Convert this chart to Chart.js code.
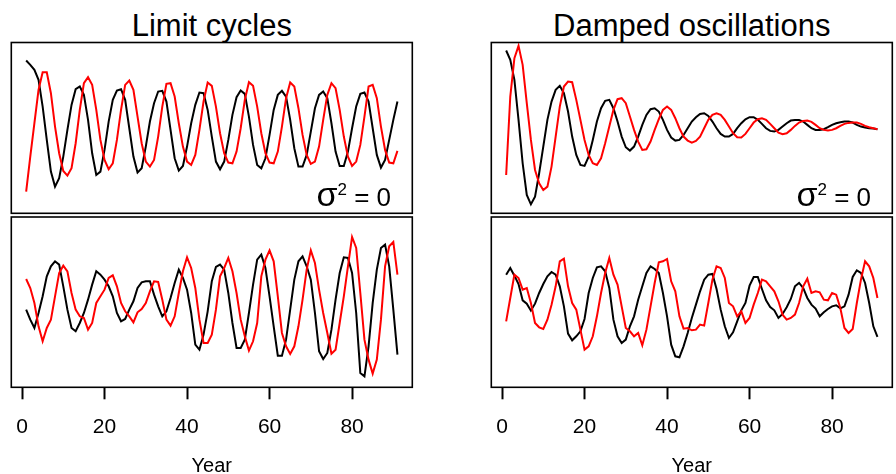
<!DOCTYPE html>
<html><head><meta charset="utf-8">
<script src="https://cdn.jsdelivr.net/npm/chart.js@4/dist/chart.umd.min.js"></script>
<style>
html,body{margin:0;padding:0;width:896px;height:474px;overflow:hidden;background:#fff;}
canvas{position:absolute;}
.t{position:absolute;font-family:"Liberation Sans",Arial,sans-serif;color:#000;white-space:nowrap;}
.ttl{font-size:31px;line-height:31px;text-align:center;top:9.7px;width:423.6px;}
.sig{font-size:26px;line-height:26px;top:183.7px;}
.sig .sg{font-size:34px;line-height:0;}
.sig .sp{font-size:17px;line-height:0;position:relative;top:-10.7px;}
</style></head><body>
<div class="t ttl" style="left:0px;">Limit cycles</div>
<div class="t ttl" style="left:480px;">Damped oscillations</div>
<canvas id="tl" width="450" height="186" style="left:0px;top:30px;"></canvas>
<canvas id="bl" width="450" height="271" style="left:0px;top:214px;"></canvas>
<canvas id="tr" width="426" height="186" style="left:470px;top:30px;"></canvas>
<canvas id="br" width="426" height="271" style="left:470px;top:214px;"></canvas>
<div class="t sig" style="right:505px;"><span class="sg">σ</span><span class="sp">2</span> = 0</div>
<div class="t sig" style="right:25px;"><span class="sg">σ</span><span class="sp">2</span> = 0</div>
<script>
// Years 1..91
const years = [1,2,3,4,5,6,7,8,9,10,11,12,13,14,15,16,17,18,19,20,21,22,23,24,25,26,27,28,29,30,31,32,33,34,35,36,37,38,39,40,41,42,43,44,45,46,47,48,49,50,51,52,53,54,55,56,57,58,59,60,61,62,63,64,65,66,67,68,69,70,71,72,73,74,75,76,77,78,79,80,81,82,83,84,85,86,87,88,89,90,91];
const xTicks = [0,20,40,60,80];
// values are read downward (larger = lower on the panel), drawn on reversed axes
const limitNoNoiseBlack = [62,75,90,120,200,300,395,440,415,350, 270,195,148,140,165,240,340,405,395,330, 245,180,152,148,180,265,350,398,385,320, 245,190,155,153,185,270,355,392,378,320, 250,195,158,160,210,290,365,388,365,300, 225,172,152,162,230,315,375,385,355,285, 210,165,153,170,240,325,380,380,345,275, 205,165,155,175,250,335,378,378,335,265, 200,162,158,185,265,345,383,360,300,240, 185];
const limitNoNoiseRed = [455,350,250,150,97,97,160,260,340,393, 407,385,310,210,130,112,135,210,300,360, 388,370,300,210,135,122,150,230,310,365, 380,360,290,200,132,130,170,250,320,365, 375,345,270,185,128,138,200,280,340,368, 370,335,265,180,127,138,200,280,340,368, 370,335,260,175,128,140,205,285,345,372, 365,320,240,165,130,145,210,290,350,378, 365,315,230,140,135,175,260,330,368,370, 333];
const limitNoiseBlack = [290,320,345,300,250,190,160,145,155,220, 290,345,355,330,300,260,215,175,185,200, 220,250,300,325,318,290,265,225,208,205, 205,245,280,310,295,255,210,170,195,230, 300,395,410,365,295,205,162,155,170,240, 330,405,405,380,300,215,140,125,165,250, 340,428,428,380,290,200,145,130,160,200, 300,415,438,420,350,260,180,133,135,180, 300,480,490,400,270,170,105,95,160,290, 425];
const limitNoiseRed = [198,225,270,340,385,345,320,250,180,158, 175,240,290,310,315,350,330,270,250,230, 195,187,220,270,295,310,328,298,288,270, 235,205,207,260,320,338,310,240,175,133, 165,225,320,390,390,365,290,190,165,135, 175,240,320,370,413,385,330,190,140,112, 145,250,360,400,423,400,340,260,170,112, 150,230,300,360,422,410,330,250,160,72, 105,240,380,440,482,440,320,160,100,87, 185];
const dampNoNoiseBlack = [32,60,120,240,370,465,493,470,400,320, 240,185,150,138,160,215,290,345,375,378, 350,300,245,205,183,180,205,245,290,322, 332,320,290,255,225,208,205,215,240,270, 293,302,300,285,265,245,232,222,220,228, 245,265,282,290,290,282,265,250,238,232, 232,240,252,265,273,275,270,260,250,242, 240,240,245,255,265,270,270,268,262,255, 250,247,245,245,248,255,260,263,265,266, 268];
const dampNoNoiseRed = [405,170,55,18,75,190,300,390,430,450, 440,380,290,200,140,125,127,180,240,300, 345,370,375,355,310,260,210,178,175,190, 230,270,305,330,328,305,270,238,210,200, 210,235,265,290,302,308,303,290,265,240, 225,220,225,240,260,280,292,293,282,265, 248,238,235,240,252,265,278,283,280,270, 258,248,243,242,246,255,265,270,272,270, 265,258,252,249,248,248,252,258,262,265, 268];
const dampNoiseBlack = [185,165,188,213,262,272,293,272,240,213, 190,177,185,220,280,362,382,370,355,318, 240,195,163,160,175,225,320,370,390,380, 340,310,260,220,180,160,168,180,240,310, 395,430,433,400,360,315,275,235,200,185, 183,228,290,340,375,358,325,292,270,218, 192,192,228,262,282,292,315,303,283,258, 220,210,225,255,275,287,310,298,288,280, 277,286,280,245,192,172,180,210,270,340, 372];
const dampNoiseRed = [325,255,185,195,230,225,270,330,343,348, 320,275,220,145,137,220,270,290,350,410, 400,370,310,240,180,135,185,215,280,345, 355,370,360,397,350,280,210,148,145,138, 205,235,310,347,345,352,350,335,338,270, 200,160,165,195,270,280,310,295,330,315, 275,240,200,205,220,235,265,305,320,315, 305,270,220,197,240,235,238,260,262,240, 245,285,345,360,348,270,200,145,160,195, 255];

const FONT = '"Liberation Sans", Arial, sans-serif';
const boxPlugin = {
  id: 'box',
  afterDatasetsDraw(chart) {
    const {ctx, chartArea: a} = chart;
    ctx.save();
    ctx.strokeStyle = '#000';
    ctx.lineWidth = 1.6;
    ctx.strokeRect(a.left, a.top, a.right - a.left, a.bottom - a.top);
    ctx.restore();
  }
};

function pts(vals) { return years.map((x, i) => ({x: x, y: vals[i]})); }

function panel(id, black, red, yMin, yMax, pad, showX) {
  new Chart(document.getElementById(id), {
    type: 'line',
    data: {
      datasets: [
        {data: pts(red), borderColor: '#ff0000', borderWidth: 2, pointRadius: 0, tension: 0, fill: false},
        {data: pts(black), borderColor: '#000000', borderWidth: 2, pointRadius: 0, tension: 0, fill: false}
      ]
    },
    options: {
      responsive: false, animation: false, devicePixelRatio: 1,
      layout: {padding: pad},
      plugins: {legend: {display: false}, tooltip: {enabled: false}, title: {display: false}},
      scales: {
        x: {
          type: 'linear', min: -2.6, max: 94.6, display: showX,
          afterBuildTicks: s => { s.ticks = xTicks.map(v => ({value: v})); },
          afterFit: s => { if (showX) s.height = 97.7; },
          grid: {drawOnChartArea: false, drawTicks: true, tickLength: 12, tickWidth: 2, tickColor: '#000'},
          border: {display: false},
          ticks: {color: '#000', font: {family: FONT, size: 21}, padding: 15.5, maxRotation: 0, autoSkip: false},
          title: {display: true, text: 'Year', color: '#000', font: {family: FONT, size: 20}, padding: {top: 0, bottom: 6.5}}
        },
        y: {type: 'linear', display: false, reverse: true, min: yMin, max: yMax}
      }
    },
    plugins: [boxPlugin]
  });
}

panel('tl', limitNoNoiseBlack, limitNoNoiseRed, 8, 520, {left: 11.3, right: 37.7, top: 12.5, bottom: 2.7}, false);
panel('bl', limitNoiseBlack, limitNoiseRed, 12, 523, {left: 11.3, right: 37.7, top: 3, bottom: 0}, true);
panel('tr', dampNoNoiseBlack, dampNoNoiseRed, 8, 520, {left: 21.3, right: 3.7, top: 12.5, bottom: 2.7}, false);
panel('br', dampNoiseBlack, dampNoiseRed, 12, 523, {left: 21.3, right: 3.7, top: 3, bottom: 0}, true);
</script>
</body></html>
